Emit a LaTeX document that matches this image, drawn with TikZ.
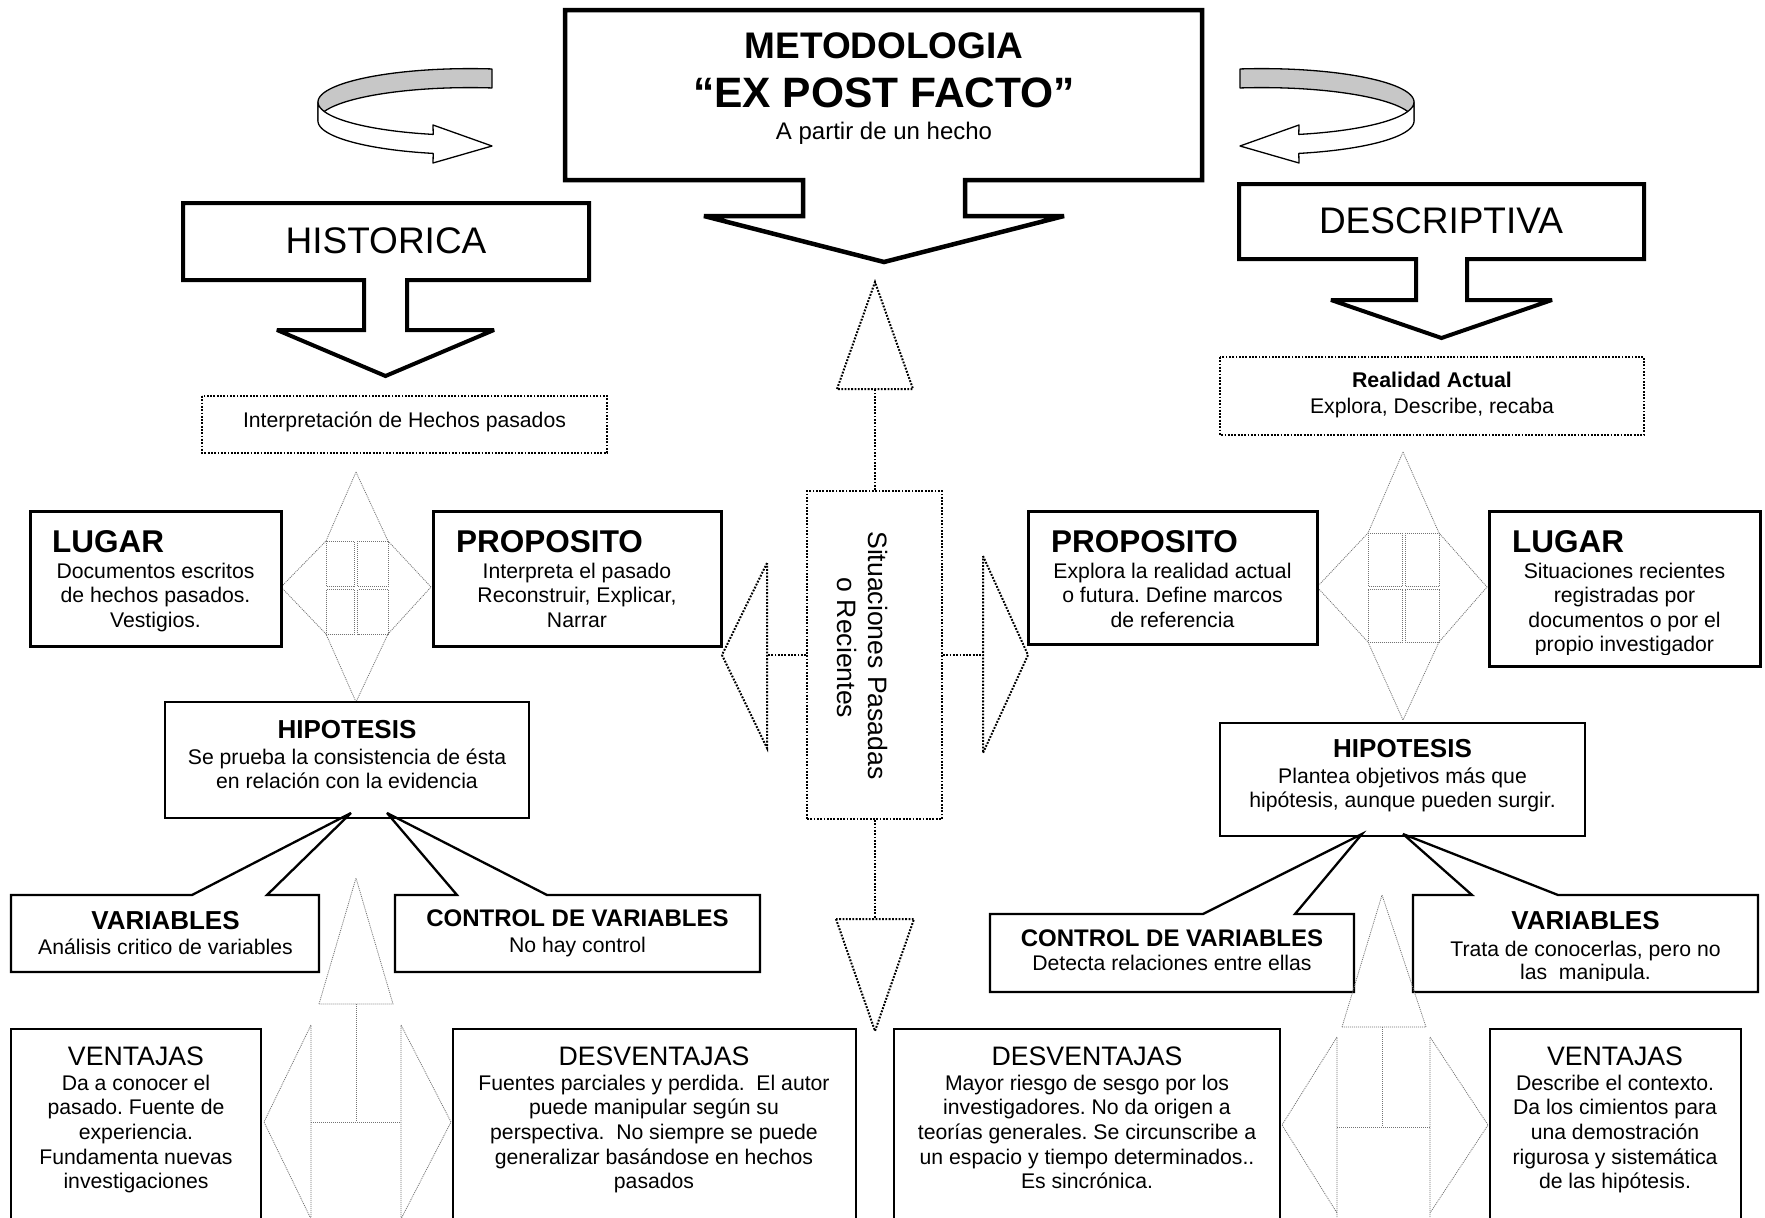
\documentclass[tikz,border=0pt]{standalone}
\usepackage{fontspec}
\setmainfont{Liberation Sans}
\frenchspacing
\begin{document}
\begin{tikzpicture}[x=1pt,y=-1pt,
  heavy/.style={draw=black,line width=4.5pt,line join=miter,miter limit=4},
  midline/.style={draw=black,line width=4pt,line join=miter,miter limit=4},
  box3/.style={draw=black,line width=3pt},
  box2/.style={draw=black,line width=2pt},
  cbox/.style={draw=black,line width=2.3pt,line join=miter,miter limit=5},
  bot/.style={draw=black,line width=2.5pt},
  dotl/.style={draw=black,line width=2pt,dash pattern=on 1.8pt off 1.5pt},
  faint/.style={draw=black!55,line width=0.8pt,dash pattern=on 1pt off 1pt},
  ribbon/.style={draw=black,line width=1.3pt,line join=round},
  tx/.style={inner sep=0pt,anchor=base},
  body/.style={tx,font=\fontsize{21.2}{24}\selectfont},
  ttl/.style={tx,anchor=base west,font=\bfseries\fontsize{31.5}{36}\selectfont},
  hip/.style={tx,font=\bfseries\fontsize{26}{30}\selectfont},
  ctl/.style={tx,font=\bfseries\fontsize{24}{28}\selectfont},
  vt/.style={tx,font=\fontsize{26.7}{30}\selectfont},
  big/.style={tx,font=\fontsize{37}{42}\selectfont},
]
\useasboundingbox[fill=white] (0,0) rectangle (1765,1218);

% ---------- curved ribbons ----------
\draw[ribbon,fill=black!22] plot[domain=81.7:180,samples=40] ({470+152*cos(\x)},{102-33.4*sin(\x)})
  -- plot[domain=180:81.7,samples=40] ({470+152*cos(\x)},{121-33.4*sin(\x)}) -- cycle;
\draw[ribbon,fill=white] plot[domain=180:256,samples=40] ({470+152*cos(\x)},{102-33.4*sin(\x)})
  -- (433,125) -- (492,146) -- (433,163)
  -- plot[domain=256:180,samples=40] ({470+152*cos(\x)},{121-33.4*sin(\x)}) -- cycle;
\draw[ribbon,fill=black!22] plot[domain=81.7:180,samples=40] ({1262-152*cos(\x)},{102-33.4*sin(\x)})
  -- plot[domain=180:81.7,samples=40] ({1262-152*cos(\x)},{121-33.4*sin(\x)}) -- cycle;
\draw[ribbon,fill=white] plot[domain=180:256,samples=40] ({1262-152*cos(\x)},{102-33.4*sin(\x)})
  -- (1299,125) -- (1240,146) -- (1299,163)
  -- plot[domain=256:180,samples=40] ({1262-152*cos(\x)},{121-33.4*sin(\x)}) -- cycle;

% ---------- big callouts ----------
\draw[heavy] (565,10) -- (1202,10) -- (1202,180) -- (965,180) -- (965,216) -- (1064,216)
  -- (884,262) -- (704,216) -- (803,216) -- (803,180) -- (565,180) -- cycle;
\node[tx,font=\bfseries\fontsize{37}{42}\selectfont] (met1) at (884,58) {METODOLOGIA};
\node[tx,font=\bfseries\fontsize{42.5}{48}\selectfont] (met2) at (884,107) {“EX POST FACTO”};
\node[tx,font=\fontsize{24}{28}\selectfont] (met3) at (884,139) {A partir de un hecho};

\draw[midline] (183,203) -- (589,203) -- (589,280) -- (407,280) -- (407,330) -- (494,330)
  -- (385.5,376) -- (277,330) -- (364,330) -- (364,280) -- (183,280) -- cycle;
\node[big] (hist) at (386,253) {HISTORICA};

\draw[midline] (1239,184) -- (1644,184) -- (1644,259) -- (1467,259) -- (1467,300) -- (1552,300)
  -- (1441.5,338) -- (1331,300) -- (1416,300) -- (1416,259) -- (1239,259) -- cycle;
\node[big] (desc) at (1441,233) {DESCRIPTIVA};

% ---------- dotted boxes ----------
\draw[dotl] (202,396) rectangle (607,453);
\node[body] (interp) at (404.5,427) {Interpretación de Hechos pasados};
\draw[dotl] (1220,357) rectangle (1644,435);
\node[tx,font=\bfseries\fontsize{21.3}{24}\selectfont] (real1) at (1432,387) {Realidad Actual};
\node[body] (real2) at (1432,413) {Explora, Describe, recaba};

% ---------- stars ----------
\draw[faint] (356,472) -- (388,541) -- (431,587) -- (388,634) -- (356,702) -- (326,634) -- (281,587) -- (326,541) -- cycle;
\draw[faint] (326,541) rectangle (354.5,586.5);
\draw[faint] (357.5,541) rectangle (388,586.5);
\draw[faint] (326,589.5) rectangle (354.5,634);
\draw[faint] (357.5,589.5) rectangle (388,634);

\draw[faint] (1403,452) -- (1439,533) -- (1487,587) -- (1439,642) -- (1403,720) -- (1368,642) -- (1317,587) -- (1368,533) -- cycle;
\draw[faint] (1368,533) rectangle (1402,586.5);
\draw[faint] (1405,533) rectangle (1439,586.5);
\draw[faint] (1368,589.5) rectangle (1402,642);
\draw[faint] (1405,589.5) rectangle (1439,642);

% ---------- central element ----------
\node[dotl,minimum width=135pt,minimum height=328pt,inner sep=0pt] (sit) at (874.5,655) {};
\node[tx,rotate=-90,font=\fontsize{26.6}{31}\selectfont] (sit1) at (868,655.5) {Situaciones Pasadas};
\node[tx,rotate=-90,font=\fontsize{26.6}{31}\selectfont] (sit2) at (837,648) {o Recientes};
\coordinate (upB) at (874.5,389);
\coordinate (dnB) at (874.5,919);
\coordinate (lfB) at (767,655);
\coordinate (rtB) at (983,655);
\draw[dotl] (sit.north) -- (upB);
\draw[dotl] (837,389) -- (875,282) -- (913,389) -- cycle;
\draw[dotl] (sit.south) -- (dnB);
\draw[dotl] (836,919) -- (875,1031) -- (914,919) -- cycle;
\draw[dotl] (sit.west) -- (lfB);
\draw[dotl] (767,563) -- (722,655) -- (767,748) -- cycle;
\draw[dotl] (sit.east) -- (rtB);
\draw[dotl] (983,556) -- (1028,655) -- (983,753) -- cycle;

% ---------- LUGAR / PROPOSITO ----------
\draw[box3] (30,511) rectangle (281,646);
\node[ttl] (lugL) at (52,552) {LUGAR};
\node[body] (lugL1) at (155.5,578) {Documentos escritos};
\node[body] (lugL2) at (155.5,602.5) {de hechos pasados.};
\node[body] (lugL3) at (155.5,627) {Vestigios.};

\draw[box3] (433,511) rectangle (721,646);
\node[ttl] (proL) at (456,552) {PROPOSITO};
\node[body] (proL1) at (577,578) {Interpreta el pasado};
\node[body] (proL2) at (577,602.5) {Reconstruir, Explicar,};
\node[body] (proL3) at (577,627) {Narrar};

\draw[box3] (1028,511) rectangle (1317,644);
\node[ttl] (proR) at (1051,552) {PROPOSITO};
\node[body] (proR1) at (1172.5,578) {Explora la realidad actual};
\node[body] (proR2) at (1172.5,602.5) {o futura. Define marcos};
\node[body] (proR3) at (1172.5,627) {de referencia};

\draw[box3] (1489,511) rectangle (1760,666);
\node[ttl] (lugR) at (1512,552) {LUGAR};
\node[body] (lugR1) at (1624.5,578) {Situaciones recientes};
\node[body] (lugR2) at (1624.5,602.5) {registradas por};
\node[body] (lugR3) at (1624.5,627) {documentos o por el};
\begin{scope}
\clip (1492,630) rectangle (1757,654);
\node[body] (lugR4) at (1624.5,651.5) {propio investigador};
\end{scope}

% ---------- HIPOTESIS ----------
\draw[box2] (165,702) rectangle (529,818);
\node[hip] (hipL) at (347,738) {HIPOTESIS};
\node[body] (hipL1) at (347,764) {Se prueba la consistencia de ésta};
\node[body] (hipL2) at (347,788) {en relación con la evidencia};

\draw[box2] (1220,723) rectangle (1585,836);
\node[hip] (hipR) at (1402.5,757) {HIPOTESIS};
\node[body] (hipR1) at (1402.5,783) {Plantea objetivos más que};
\node[body] (hipR2) at (1402.5,807) {hipótesis, aunque pueden surgir.};

% ---------- VARIABLES / CONTROL callouts ----------
\draw[cbox] (11,895) -- (192,895) -- (351,813) -- (267,895) -- (319,895) -- (319,972) -- (11,972) -- cycle;
\node[hip] (varL) at (165.5,929) {VARIABLES};
\node[body] (varL1) at (165.5,954) {Análisis critico de variables};

\draw[cbox] (395,895) -- (457,895) -- (387,813) -- (547,895) -- (760,895) -- (760,972) -- (395,972) -- cycle;
\node[ctl] (conL) at (577.5,926) {CONTROL DE VARIABLES};
\node[body] (conL1) at (577.5,952) {No hay control};

\draw[cbox] (990,914) -- (1203,914) -- (1362,834) -- (1295,914) -- (1354,914) -- (1354,992) -- (990,992) -- cycle;
\node[ctl] (conR) at (1172,946) {CONTROL DE VARIABLES};
\node[body] (conR1) at (1172,970) {Detecta relaciones entre ellas};

\draw[cbox] (1413,895) -- (1472,895) -- (1403,834) -- (1558,895) -- (1758,895) -- (1758,992) -- (1413,992) -- cycle;
\node[hip] (varR) at (1585.5,929) {VARIABLES};
\node[body] (varR1) at (1585.5,956) {Trata de conocerlas, pero no};
\begin{scope}
\clip (1416,960) rectangle (1755,980.5);
\node[body] (varR2) at (1585.5,979) {las~ manipula.};
\end{scope}

% ---------- left-right-up arrows ----------
\draw[faint] (319,1004) -- (356,878) -- (393,1004) -- cycle;
\draw[faint] (356,1004) -- (356,1122);
\draw[faint] (311,1122) -- (401,1122);
\draw[faint] (311,1235) -- (311,1025) -- (264,1122) -- (311,1219);
\draw[faint] (401,1235) -- (401,1025) -- (451,1122) -- (401,1219);

\draw[faint] (1342,1027) -- (1382,895) -- (1426,1027) -- cycle;
\draw[faint] (1382,1027) -- (1382,1127);
\draw[faint] (1337,1127) -- (1430,1127);
\draw[faint] (1337,1235) -- (1337,1037) -- (1282,1125) -- (1337,1213);
\draw[faint] (1430,1235) -- (1430,1037) -- (1488,1125) -- (1430,1213);

% ---------- bottom boxes ----------
\draw[bot] (11,1235) -- (11,1029) -- (261,1029) -- (261,1235);
\node[vt] (venL) at (136,1065) {VENTAJAS};
\node[body] (venL1) at (136,1090) {Da a conocer el};
\node[body] (venL2) at (136,1114.5) {pasado. Fuente de};
\node[body] (venL3) at (136,1139) {experiencia.};
\node[body] (venL4) at (136,1164) {Fundamenta nuevas};
\node[body] (venL5) at (136,1188.5) {investigaciones};

\draw[bot] (453,1235) -- (453,1029) -- (856,1029) -- (856,1235);
\node[vt] (desL) at (654,1065) {DESVENTAJAS};
\node[body] (desL1) at (654,1090) {Fuentes parciales y perdida.~ El autor};
\node[body] (desL2) at (654,1114.5) {puede manipular según su};
\node[body] (desL3) at (654,1139) {perspectiva.~ No siempre se puede};
\node[body] (desL4) at (654,1164) {generalizar basándose en hechos};
\node[body] (desL5) at (654,1188.5) {pasados};

\draw[bot] (894,1235) -- (894,1029) -- (1280,1029) -- (1280,1235);
\node[vt] (desR) at (1087,1065) {DESVENTAJAS};
\node[body] (desR1) at (1087,1090) {Mayor riesgo de sesgo por los};
\node[body] (desR2) at (1087,1114.5) {investigadores. No da origen a};
\node[body] (desR3) at (1087,1139) {teorías generales. Se circunscribe a};
\node[body] (desR4) at (1087,1164) {un espacio y tiempo determinados..};
\node[body] (desR5) at (1087,1188.5) {Es sincrónica.};

\draw[bot] (1490,1235) -- (1490,1029) -- (1741,1029) -- (1741,1235);
\node[vt] (venR) at (1615,1065) {VENTAJAS};
\node[body] (venR1) at (1615,1090) {Describe el contexto.};
\node[body] (venR2) at (1615,1114.5) {Da los cimientos para};
\node[body] (venR3) at (1615,1139) {una demostración};
\node[body] (venR4) at (1615,1164) {rigurosa y sistemática};
\node[body] (venR5) at (1615,1188.5) {de las hipótesis.};
\end{tikzpicture}
\end{document}
